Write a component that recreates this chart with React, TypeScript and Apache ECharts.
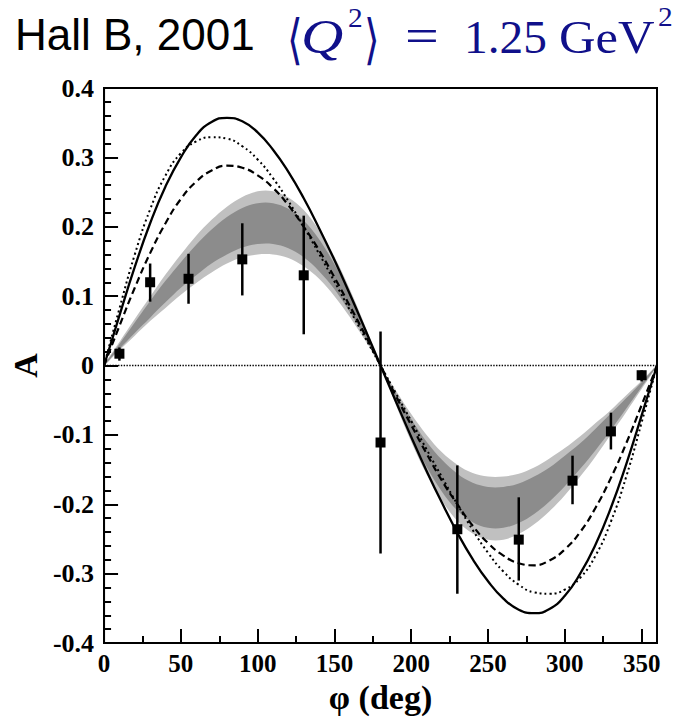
import React, { useEffect, useRef } from "react";
import * as echarts from "echarts";

// phi grid (deg) for curves
const PHI = [0, 10, 20, 30, 40, 50, 60, 70, 80, 90, 100, 110, 120, 130, 140, 150, 160, 170, 180,
  190, 200, 210, 220, 230, 240, 250, 260, 270, 280, 290, 300, 310, 320, 330, 340, 350, 360];

const SOLID = [0, 0.072, 0.142, 0.205, 0.258, 0.300, 0.332, 0.351, 0.357, 0.352, 0.336, 0.311, 0.279, 0.241, 0.198, 0.152, 0.103, 0.052, 0,
  -0.052, -0.103, -0.152, -0.198, -0.241, -0.279, -0.311, -0.336, -0.352, -0.357, -0.351, -0.332, -0.300, -0.258, -0.205, -0.142, -0.072, 0];

const DOTTED = [0, 0.082, 0.160, 0.225, 0.274, 0.306, 0.323, 0.329, 0.327, 0.316, 0.297, 0.270, 0.237, 0.200, 0.161, 0.121, 0.080, 0.040, 0,
  -0.040, -0.080, -0.121, -0.161, -0.200, -0.237, -0.270, -0.297, -0.316, -0.327, -0.329, -0.323, -0.306, -0.274, -0.225, -0.160, -0.082, 0];

const DASHED = [0, 0.057, 0.112, 0.162, 0.205, 0.240, 0.265, 0.281, 0.288, 0.285, 0.274, 0.256, 0.231, 0.200, 0.166, 0.127, 0.086, 0.044, 0,
  -0.044, -0.086, -0.127, -0.166, -0.200, -0.231, -0.256, -0.274, -0.285, -0.288, -0.281, -0.265, -0.240, -0.205, -0.162, -0.112, -0.057, 0];

// fit band: outer (light) and inner (dark) edges
const OUT_HI = [0, 0.034, 0.067, 0.099, 0.131, 0.160, 0.187, 0.210, 0.229, 0.243, 0.251, 0.251, 0.242, 0.224, 0.195, 0.157, 0.110, 0.057, 0,
  -0.036, -0.070, -0.100, -0.125, -0.143, -0.155, -0.160, -0.160, -0.156, -0.147, -0.134, -0.119, -0.102, -0.083, -0.064, -0.043, -0.022, 0];
const OUT_LO = [0, 0.022, 0.043, 0.064, 0.083, 0.102, 0.119, 0.134, 0.147, 0.156, 0.160, 0.160, 0.155, 0.143, 0.125, 0.100, 0.070, 0.036, 0,
  -0.057, -0.110, -0.157, -0.195, -0.224, -0.242, -0.251, -0.251, -0.243, -0.229, -0.210, -0.187, -0.160, -0.131, -0.099, -0.067, -0.034, 0];
const IN_HI = [0, 0.031, 0.062, 0.093, 0.122, 0.149, 0.174, 0.196, 0.214, 0.227, 0.234, 0.234, 0.226, 0.209, 0.182, 0.146, 0.103, 0.053, 0,
  -0.040, -0.077, -0.110, -0.136, -0.156, -0.169, -0.175, -0.175, -0.170, -0.160, -0.147, -0.130, -0.112, -0.091, -0.069, -0.047, -0.024, 0];
const IN_LO = [0, 0.024, 0.047, 0.069, 0.091, 0.112, 0.130, 0.147, 0.160, 0.170, 0.175, 0.175, 0.169, 0.156, 0.136, 0.110, 0.077, 0.040, 0,
  -0.053, -0.103, -0.146, -0.182, -0.209, -0.226, -0.234, -0.234, -0.227, -0.214, -0.196, -0.174, -0.149, -0.122, -0.093, -0.062, -0.031, 0];

// data points
const PTS_PHI = [10, 30, 55, 90, 130, 180, 230, 270, 305, 330, 350];
const PTS_A = [0.017, 0.120, 0.125, 0.153, 0.130, -0.111, -0.236, -0.251, -0.166, -0.095, -0.014];
const PTS_LO = [0.007, 0.092, 0.089, 0.101, 0.045, -0.271, -0.329, -0.310, -0.200, -0.121, -0.023];
const PTS_HI = [0.026, 0.147, 0.161, 0.205, 0.216, 0.049, -0.144, -0.190, -0.130, -0.068, -0.007];

const X_TITLE = "φ (deg)";
const Y_TITLE = "A";

const SERIF = "'Liberation Serif', 'Times New Roman', serif";
const BLUE = "#10108a";

function bandSeries(hi: number[], lo: number[], color: string, z: number) {
  return {
    type: "custom", z, silent: true,
    data: PHI.map((p, i) => [p, lo[i], hi[i]]),
    encode: { x: 0, y: [1, 2] },
    renderItem: (params: any, api: any) => {
      if (params.dataIndex !== 0) return null;
      const pts: number[][] = [];
      for (let i = 0; i < PHI.length; i++) pts.push(api.coord([PHI[i], hi[i]]));
      for (let i = PHI.length - 2; i >= 1; i--) pts.push(api.coord([PHI[i], lo[i]]));
      return { type: "polygon", shape: { points: pts, smooth: 0.35 }, style: { fill: color, stroke: "none" } };
    },
  };
}

export default function App() {
  const ref = useRef<HTMLDivElement>(null);
  useEffect(() => {
    if (!ref.current) return;
    const chart = echarts.init(ref.current, undefined, { renderer: "svg" });
    const pair = (ys: number[]) => PHI.map((p, i) => [p, ys[i]]);
    const labelStyle = { fontFamily: SERIF, fontWeight: "bold" as const, color: "#000" };
    const blue = (x: number, y: number, text: string, fontSize: number, sx = 1, sy = 1, extra: any = {}) => ({
      type: "text", x, y, scaleX: sx, scaleY: sy,
      style: { text, fill: BLUE, fontFamily: SERIF, fontSize, verticalAlign: "top", ...extra },
    });
    chart.setOption({
      animation: false,
      backgroundColor: "#fff",
      grid: { left: 100, right: 32, top: 88, bottom: 79, show: true, borderColor: "#000", borderWidth: 2, backgroundColor: "transparent" },
      xAxis: {
        type: "value", min: 0, max: 360, interval: 50,
        name: X_TITLE, nameLocation: "middle", nameGap: 28,
        nameTextStyle: { ...labelStyle, fontSize: 34 },
        axisLine: { show: true, onZero: false, lineStyle: { color: "#000", width: 2 } },
        axisTick: { show: true, inside: true, length: 14, lineStyle: { color: "#000", width: 2 } },
        minorTick: { show: true, splitNumber: 2, length: 7, lineStyle: { color: "#000", width: 2 } },
        splitLine: { show: false },
        axisLabel: { ...labelStyle, fontSize: 25, margin: 8, showMaxLabel: false },
      },
      yAxis: {
        type: "value", min: -0.4, max: 0.4, interval: 0.1,
        name: Y_TITLE, nameLocation: "middle", nameGap: 53, nameRotate: 90,
        nameTextStyle: { ...labelStyle, fontSize: 34 },
        axisLine: { show: true, onZero: false, lineStyle: { color: "#000", width: 2 } },
        axisTick: { show: true, inside: true, length: 14, lineStyle: { color: "#000", width: 2 } },
        minorTick: { show: true, splitNumber: 5, length: 7, lineStyle: { color: "#000", width: 2 } },
        splitLine: { show: false },
        axisLabel: {
          ...labelStyle, fontSize: 26, margin: 10,
          formatter: (v: number) => (Math.abs(v) < 1e-9 ? "0" : v.toFixed(1)),
        },
      },
      graphic: [
        { type: "text", x: 15, y: 12, style: { text: "Hall B, 2001", fill: "#000", fontFamily: "'Liberation Sans', Arial, sans-serif", fontSize: 44, verticalAlign: "top" } },
        blue(287, 12, "⟨", 40, 1, 1.35, { fontFamily: "'DejaVu Sans'" }),
        blue(301, 13, "Q", 48, 1.22, 1, { fontStyle: "italic" }),
        blue(348, 3, "2", 28, 1.05, 1),
        blue(364, 12, "⟩", 40, 1, 1.35, { fontFamily: "'DejaVu Sans'" }),
        blue(405, 12, "=", 48, 1.25, 1),
        blue(464, 14, "1.25", 46, 1.03, 1),
        blue(559, 14, "GeV", 46, 1.1, 1),
        blue(658, 2, "2", 28, 1.05, 1),
      ],
      series: [
        bandSeries(OUT_HI, OUT_LO, "#c0c0c0", 1),
        bandSeries(IN_HI, IN_LO, "#8c8c8c", 2),
        { type: "line", data: [[0, 0], [360, 0]], symbol: "none", lineStyle: { color: "#000", width: 1.4, type: "dotted", dashOffset: 0 }, z: 3 },
        { type: "line", data: pair(DASHED), smooth: true, symbol: "none", lineStyle: { color: "#000", width: 2.2, type: [7, 4] }, z: 4 },
        { type: "line", data: pair(DOTTED), smooth: true, symbol: "none", lineStyle: { color: "#000", width: 2, type: [2, 3] }, z: 4 },
        { type: "line", data: pair(SOLID), smooth: true, symbol: "none", lineStyle: { color: "#000", width: 2.3 }, z: 4 },
        {
          type: "custom", z: 5,
          data: PTS_PHI.map((p, i) => [p, PTS_LO[i], PTS_HI[i]]),
          encode: { x: 0, y: [1, 2] },
          renderItem: (params: any, api: any) => {
            const a = api.coord([api.value(0), api.value(1)]);
            const b = api.coord([api.value(0), api.value(2)]);
            return { type: "line", shape: { x1: a[0], y1: a[1], x2: b[0], y2: b[1] }, style: { stroke: "#000", lineWidth: 2.5 } };
          },
        },
        { type: "scatter", data: PTS_PHI.map((p, i) => [p, PTS_A[i]]), symbol: "rect", symbolSize: 10, itemStyle: { color: "#000", opacity: 1 }, z: 6 },
      ],
    });
    return () => chart.dispose();
  }, []);
  return <div ref={ref} style={{ position: "absolute", left: 0, top: 0, width: 689, height: 722 }} />;
}
